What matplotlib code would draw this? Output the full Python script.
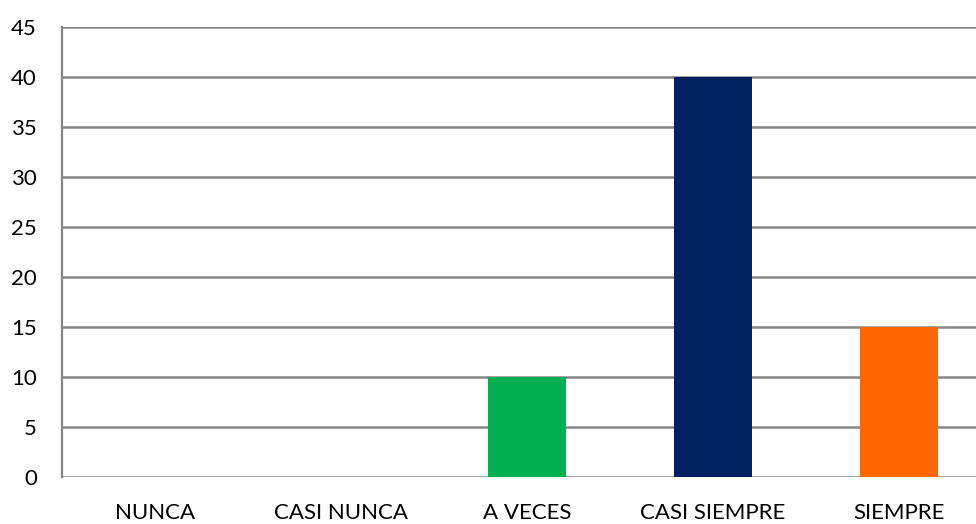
import matplotlib.pyplot as plt

categorias = ['NUNCA', 'CASI NUNCA', 'A VECES', 'CASI SIEMPRE', 'SIEMPRE']
valores = [0, 0, 10, 40, 15]
colores = ['#4472C4', '#ED7D31', '#00B050', '#002060', '#FF6600']

plt.rcParams['font.family'] = ['Lato', 'DejaVu Sans']

W, H = 976, 524
fig = plt.figure(figsize=(W / 100, H / 100), dpi=100)
# plot area runs past the right edge of the image, as in the reference
ax = fig.add_axes([62 / W, (H - 477) / H, (992 - 62) / W, 450 / H])

x = range(len(categorias))
ax.bar(x, valores, width=0.42, color=colores, zorder=3)

ax.set_xlim(-0.5, len(categorias) - 0.5)
ax.set_ylim(0, 45)
ax.set_yticks(range(0, 46, 5))
ax.set_xticks(list(x))
ax.set_xticklabels(categorias)

ax.yaxis.grid(True, color='#868686', linewidth=1.8, zorder=1)
for s in ['top', 'right', 'bottom']:
    ax.spines[s].set_visible(False)
ax.spines['left'].set_color('#868686')
ax.spines['left'].set_linewidth(1.6)
ax.tick_params(axis='y', length=0, pad=18, labelsize=16, colors='black')
ax.tick_params(axis='x', length=0, pad=19, labelsize=16, colors='black')

fig.savefig('out.png', dpi=100)
